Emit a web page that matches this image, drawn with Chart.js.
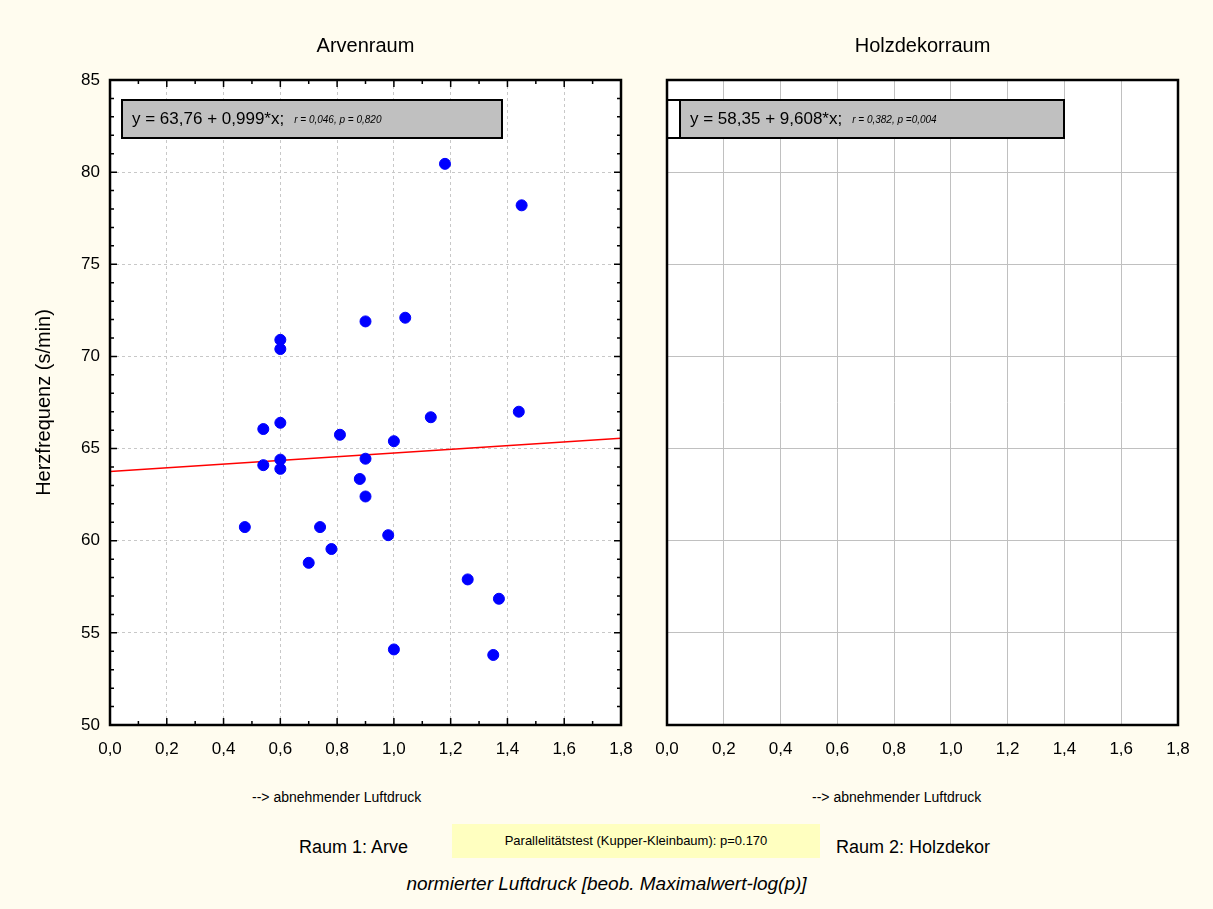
<!DOCTYPE html>
<html><head><meta charset="utf-8">
<script src="https://cdn.jsdelivr.net/npm/chart.js@4/dist/chart.umd.min.js"></script>
<style>
body{margin:0;background:#fffcef;font-family:"Liberation Sans",Arial,sans-serif;}
#wrap{position:relative;width:1213px;height:909px;}
.box{position:absolute;top:0;height:770px;}
.t{position:absolute;color:#000;white-space:nowrap;}
</style></head><body>
<div id="wrap">
  <div class="box" style="left:0;width:640px"><canvas id="c1"></canvas></div>
  <div class="box" style="left:640px;width:573px"><canvas id="c2"></canvas></div>
  <div class="t" style="left:252px;top:789px;font-size:14px">--&gt; abnehmender Luftdruck</div>
  <div class="t" style="left:812px;top:789px;font-size:14px">--&gt; abnehmender Luftdruck</div>
  <div class="t" style="left:299px;top:837px;font-size:18px">Raum 1: Arve</div>
  <div class="t" style="left:452px;top:824px;width:368px;height:34px;background:#ffffc0;font-size:13px;line-height:34px;text-align:center">Parallelitätstest (Kupper-Kleinbaum): p=0.170</div>
  <div class="t" style="left:836px;top:837px;font-size:18px">Raum 2: Holzdekor</div>
  <div class="t" style="left:0;width:1213px;top:873px;font-size:19px;font-style:italic;text-align:center">normierter Luftdruck [beob. Maximalwert-log(p)]</div>
</div>
<script>
const xTicks = [0, 0.2, 0.4, 0.6, 0.8, 1.0, 1.2, 1.4, 1.6, 1.8];
const yTicks = [50, 55, 60, 65, 70, 75, 80, 85];
const arveX = [0.475,0.54,0.54,0.60,0.60,0.60,0.60,0.60,0.70,0.74,0.78,0.81,0.88,0.90,0.90,0.90,0.98,1.00,1.00,1.04,1.13,1.18,1.26,1.35,1.37,1.44,1.45];
const arveY = [60.74,66.06,64.1,70.9,70.4,66.4,64.4,63.9,58.8,60.74,59.55,65.75,63.35,71.9,64.45,62.4,60.3,65.4,54.1,72.1,66.7,80.45,57.9,53.8,56.85,67.0,78.2];
const fitArve = {a: 63.76, b: 0.999, text: 'y = 63,76 + 0,999*x;', stat: 'r = 0,046, p = 0,820'};
const fitHolz = {a: 58.35, b: 9.608, text: 'y = 58,35 + 9,608*x;', stat: 'r = 0,382, p =0,004'};
const FONT = '"Liberation Sans", Arial, sans-serif';

function fmt(v){ return v.toFixed(1).replace('.', ','); }

function panelPlugin(title, fit, boxX0, boxX1, leftStub, ticksInside){
  return {
    id: 'panel',
    beforeDraw(chart){
      const c = chart.ctx, a = chart.chartArea;
      c.save(); c.fillStyle = '#fff';
      c.fillRect(a.left, a.top, a.right - a.left, a.bottom - a.top);
      c.restore();
    },
    afterDraw(chart){
      const c = chart.ctx, a = chart.chartArea;
      c.save();
      c.fillStyle = '#000';
      c.font = '20px ' + FONT;
      c.textAlign = 'center';
      c.fillText(title, (a.left + a.right) / 2, 52);
      if (ticksInside){
        c.strokeStyle = '#000'; c.lineWidth = 1.5;
        const xs = chart.scales.x, ys = chart.scales.y;
        for (let i = 0; i <= 18; i++){
          const p = xs.getPixelForValue(i / 10), l = i % 2 === 0 ? 7 : 4;
          c.beginPath(); c.moveTo(p, a.bottom); c.lineTo(p, a.bottom - l);
          c.moveTo(p, a.top); c.lineTo(p, a.top + l); c.stroke();
        }
        for (let v = 50; v <= 85; v += 1){
          const p = ys.getPixelForValue(v), l = v % 5 === 0 ? 7 : 4;
          c.beginPath(); c.moveTo(a.left, p); c.lineTo(a.left + l, p);
          c.moveTo(a.right, p); c.lineTo(a.right - l, p); c.stroke();
        }
      }
      // equation box
      const bx = a.left + boxX0, bw = boxX1 - boxX0, by = a.top + 20, bh = 38;
      c.fillStyle = '#c0c0c0';
      c.fillRect(bx, by, bw, bh);
      c.strokeStyle = '#000'; c.lineWidth = 2;
      c.strokeRect(bx, by, bw, bh);
      if (leftStub){
        c.fillStyle = '#fff'; c.fillRect(a.left, by, boxX0, bh);
        c.strokeRect(a.left, by, boxX0, bh);
      }
      c.fillStyle = '#000'; c.textAlign = 'left'; c.textBaseline = 'middle';
      c.font = '17px ' + FONT;
      c.fillText(fit.text, bx + 10, by + bh / 2);
      const w = c.measureText(fit.text).width;
      c.font = 'italic 10px ' + FONT;
      c.fillText(fit.stat, bx + w + 20, by + bh / 2 + 1);
      c.lineWidth = 2.5;
      c.strokeRect(a.left, a.top, a.right - a.left, a.bottom - a.top);
      c.restore();
    }
  };
}

function scales(showY, dashed){
  const grid = {color: dashed ? '#c8c8c8' : '#c0c0c0', drawTicks: false};
  return {
    x: {type: 'linear', min: 0, max: 1.8, afterFit(s){ s.height = 45; s.paddingRight = 0; },
        afterBuildTicks(s){ s.ticks = xTicks.map(v => ({value: v})); },
        border: {display: false, dash: dashed ? [3, 3] : []},
        grid: grid,
        ticks: {color: '#000', font: {size: 17, family: FONT}, padding: 14, callback: v => fmt(v)}},
    y: {type: 'linear', min: 50, max: 85, afterFit(s){ s.width = showY ? 82 : 27; },
        afterBuildTicks(s){ s.ticks = yTicks.map(v => ({value: v})); },
        border: {display: false, dash: dashed ? [3, 3] : []},
        grid: grid,
        title: {display: showY, text: 'Herzfrequenz (s/min)', color: '#000', font: {size: 20, family: FONT}, padding: {bottom: 4}},
        ticks: {display: showY, color: '#000', font: {size: 17, family: FONT}, padding: 10}}
  };
}

new Chart(document.getElementById('c1'), {
  type: 'scatter',
  data: {datasets: [
    {data: arveX.map((x, i) => ({x: x, y: arveY[i]})), backgroundColor: '#0000ff', borderColor: '#0000ff', pointRadius: 5.5},
    {type: 'line', data: [{x: 0, y: fitArve.a}, {x: 1.8, y: fitArve.a + fitArve.b * 1.8}], borderColor: '#ff0000', borderWidth: 1.5, pointRadius: 0}
  ]},
  options: {
    responsive: true, maintainAspectRatio: false, animation: false,
    layout: {padding: {top: 80, right: 19, left: 28, bottom: 0}},
    plugins: {legend: {display: false}, tooltip: {enabled: false}},
    scales: scales(true, true)
  },
  plugins: [panelPlugin('Arvenraum', fitArve, 12, 392, false, true)]
});

new Chart(document.getElementById('c2'), {
  type: 'scatter',
  data: {datasets: [{data: [], pointRadius: 0}]},
  options: {
    responsive: true, maintainAspectRatio: false, animation: false,
    layout: {padding: {top: 80, right: 35, left: 0, bottom: 0}},
    plugins: {legend: {display: false}, tooltip: {enabled: false}},
    scales: scales(false, false)
  },
  plugins: [panelPlugin('Holzdekorraum', fitHolz, 13, 397, true, false)]
});
</script>
</body></html>
